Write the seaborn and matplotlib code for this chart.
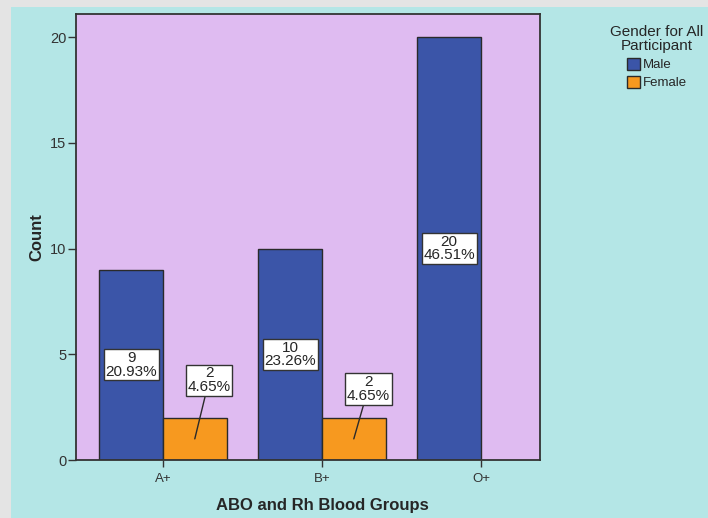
import matplotlib
matplotlib.use("Agg")
import matplotlib.pyplot as plt
from matplotlib.patches import Patch, Rectangle
import pandas as pd
import seaborn as sns

# data
blood_groups = ["A+", "A+", "B+", "B+", "O+"]
genders = ["Male", "Female", "Male", "Female", "Male"]
counts = [9, 2, 10, 2, 20]
gender_order = ["Male", "Female"]
group_order = ["A+", "B+", "O+"]

df = pd.DataFrame({"group": blood_groups, "gender": genders, "count": counts})
total = sum(counts)

sns.set_style("white")
plt.rcParams["font.family"] = ["Liberation Sans", "DejaVu Sans"]

BLUE = "#3b55a8"
ORANGE = "#f7991f"
LAVENDER = "#dfbbf1"
TEAL = "#b4e6e6"
EDGE = "#2a2a2a"

fig = plt.figure(figsize=(7.08, 5.18), dpi=100)
fig.patch.set_facecolor("#e4e4e4")
fig.patches.append(Rectangle((11 / 708, 0), 1, 1 - 7 / 518, transform=fig.transFigure,
                             facecolor=TEAL, edgecolor="none", zorder=-10))

ax = fig.add_axes([76 / 708, 58 / 518, 464 / 708, 446 / 518])
ax.set_zorder(1)
ax.set_facecolor(LAVENDER)

sns.barplot(data=df, x="group", y="count", hue="gender", order=group_order,
            hue_order=gender_order, palette=[BLUE, ORANGE], width=0.8, saturation=1,
            edgecolor=EDGE, linewidth=1, legend=False, ax=ax)

ax.set_xlim(-0.547, 2.371)
ax.set_ylim(0, 21.1)
ax.set_yticks([0, 5, 10, 15, 20])

box = dict(boxstyle="square,pad=0.12", fc="white", ec="#333333", lw=1)

# male labels sit in the middle of the bar
for bar in ax.containers[0]:
    h = bar.get_height()
    if h > 0:
        cx = bar.get_x() + bar.get_width() / 2
        ax.text(cx, h / 2, f"{int(h)}\n{h / total * 100:.2f}%", ha="center", va="center",
                fontsize=11, linespacing=0.95, bbox=box, zorder=5)

# female labels float above, with a leader line
female_label_y = [3.78, 3.36]
for bar, ly in zip([b for b in ax.containers[1] if b.get_height() > 0], female_label_y):
    h = bar.get_height()
    cx = bar.get_x() + bar.get_width() / 2
    ax.annotate(f"{int(h)}\n{h / total * 100:.2f}%", xy=(cx, h / 2), xytext=(cx + 0.09, ly),
                ha="center", va="center", fontsize=11, linespacing=0.95, bbox=box,
                arrowprops=dict(arrowstyle="-", color=EDGE, lw=1, shrinkA=0, shrinkB=0),
                zorder=5)

for s in ax.spines.values():
    s.set_color("#333333")
    s.set_linewidth(1.3)

ax.tick_params(axis="y", direction="out", length=6, width=1, color="#333333", pad=1,
               labelsize=10.5, labelcolor="#333333", left=True)
ax.tick_params(axis="x", direction="out", length=5, width=1, color="#333333", pad=4,
               labelsize=9.5, labelcolor="#333333", bottom=True)
ax.set_xlabel("ABO and Rh Blood Groups", fontsize=12, fontweight="bold")
ax.xaxis.set_label_coords((322 - 76) / 464, -0.085)
ax.set_ylabel("Count", fontsize=12, fontweight="bold")
ax.yaxis.set_label_coords(-0.069, 0.5)

handles = [Patch(facecolor=BLUE, edgecolor=EDGE, label="Male"),
           Patch(facecolor=ORANGE, edgecolor=EDGE, label="Female")]
leg = fig.legend(handles=handles, title="Gender for All\nParticipant", loc="upper center",
                 bbox_to_anchor=(657 / 708, 1 - 16 / 518), frameon=False, fontsize=9.5,
                 title_fontsize=11, handlelength=1.0, handleheight=1.0,
                 handletextpad=0.2, labelspacing=0.35, borderpad=0.2)
leg.get_title().set_multialignment("center")
leg.get_title().set_linespacing(1.0)

fig.savefig("out.png", dpi=100, facecolor=fig.get_facecolor())
